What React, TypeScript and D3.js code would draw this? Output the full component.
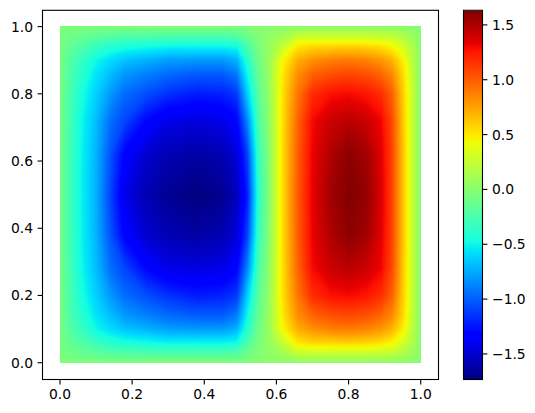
import React from "react";
import * as d3 from "d3";

// sample positions of the field (denser where it changes fast)
const xGrid = [0, 0.03, 0.06, 0.1, 0.14, 0.18, 0.24, 0.3, 0.38, 0.45, 0.49, 0.52, 0.55, 0.58, 0.62, 0.66, 0.7, 0.75, 0.8, 0.85, 0.89, 0.92, 0.95, 0.98, 1];
const yGrid = [0, 0.03, 0.06, 0.1, 0.14, 0.2, 0.28, 0.38, 0.5, 0.62, 0.72, 0.8, 0.86, 0.9, 0.94, 0.97, 1];

// one row per yGrid entry, bottom to top
const fieldRows = [
  [-0.04, -0.04, -0.04, -0.03, -0.03, -0.03, -0.02, -0.02, -0.02, -0.02, -0.03, -0.02, 0, 0.02, 0.03, 0.03, 0.03, 0.03, 0.03, 0.03, 0.03, 0.03, 0.02, 0.01, 0],
  [-0.05, -0.1, -0.13, -0.18, -0.21, -0.23, -0.24, -0.25, -0.25, -0.25, -0.22, -0.12, -0.03, 0.05, 0.12, 0.28, 0.28, 0.28, 0.28, 0.28, 0.27, 0.25, 0.18, 0.09, 0],
  [-0.05, -0.16, -0.22, -0.32, -0.4, -0.44, -0.47, -0.5, -0.5, -0.5, -0.47, -0.25, -0.06, 0.07, 0.28, 0.52, 0.58, 0.58, 0.6, 0.58, 0.54, 0.47, 0.34, 0.15, 0],
  [-0.05, -0.22, -0.32, -0.48, -0.58, -0.66, -0.72, -0.78, -0.8, -0.8, -0.72, -0.38, -0.1, 0.08, 0.47, 0.72, 0.82, 0.88, 0.9, 0.87, 0.8, 0.7, 0.5, 0.19, 0],
  [-0.05, -0.25, -0.38, -0.55, -0.68, -0.8, -0.88, -0.95, -1, -1, -0.9, -0.48, -0.13, 0.08, 0.53, 0.83, 0.98, 1.05, 1.08, 1.05, 0.97, 0.85, 0.58, 0.21, 0],
  [-0.05, -0.27, -0.44, -0.62, -0.8, -0.95, -1.05, -1.15, -1.22, -1.2, -1.12, -0.62, -0.18, 0.06, 0.56, 0.92, 1.18, 1.28, 1.3, 1.26, 1.18, 1, 0.62, 0.22, 0],
  [-0.05, -0.29, -0.48, -0.68, -0.94, -1.08, -1.3, -1.42, -1.45, -1.42, -1.32, -0.85, -0.25, 0.04, 0.57, 0.98, 1.3, 1.42, 1.47, 1.42, 1.32, 1.08, 0.64, 0.22, 0],
  [-0.05, -0.3, -0.5, -0.71, -1.03, -1.32, -1.5, -1.58, -1.62, -1.58, -1.47, -1.08, -0.33, 0.01, 0.58, 1.01, 1.33, 1.5, 1.6, 1.54, 1.36, 1.1, 0.65, 0.22, 0],
  [-0.05, -0.3, -0.5, -0.72, -1.08, -1.42, -1.58, -1.67, -1.73, -1.68, -1.55, -1.2, -0.38, 0, 0.58, 1.02, 1.34, 1.54, 1.63, 1.58, 1.38, 1.1, 0.65, 0.22, 0],
  [-0.05, -0.3, -0.5, -0.71, -1.03, -1.32, -1.5, -1.58, -1.62, -1.58, -1.47, -1.08, -0.33, 0.01, 0.58, 1.01, 1.33, 1.5, 1.6, 1.54, 1.36, 1.1, 0.65, 0.22, 0],
  [-0.05, -0.29, -0.48, -0.68, -0.94, -1.08, -1.3, -1.42, -1.45, -1.42, -1.32, -0.85, -0.25, 0.04, 0.57, 0.98, 1.3, 1.42, 1.47, 1.42, 1.32, 1.08, 0.64, 0.22, 0],
  [-0.05, -0.27, -0.44, -0.62, -0.8, -0.95, -1.05, -1.15, -1.22, -1.2, -1.12, -0.62, -0.18, 0.06, 0.56, 0.92, 1.18, 1.28, 1.3, 1.26, 1.18, 1, 0.62, 0.22, 0],
  [-0.05, -0.25, -0.38, -0.55, -0.68, -0.8, -0.88, -0.95, -1, -1, -0.9, -0.48, -0.13, 0.08, 0.53, 0.83, 0.98, 1.05, 1.08, 1.05, 0.97, 0.85, 0.58, 0.21, 0],
  [-0.05, -0.22, -0.32, -0.48, -0.58, -0.66, -0.72, -0.78, -0.8, -0.8, -0.72, -0.38, -0.1, 0.08, 0.47, 0.72, 0.82, 0.88, 0.9, 0.87, 0.8, 0.7, 0.5, 0.19, 0],
  [-0.05, -0.16, -0.22, -0.32, -0.4, -0.44, -0.47, -0.5, -0.5, -0.5, -0.47, -0.25, -0.06, 0.07, 0.28, 0.52, 0.58, 0.58, 0.6, 0.58, 0.54, 0.47, 0.34, 0.15, 0],
  [-0.05, -0.1, -0.13, -0.18, -0.21, -0.23, -0.24, -0.25, -0.25, -0.25, -0.22, -0.12, -0.03, 0.05, 0.12, 0.28, 0.28, 0.28, 0.28, 0.28, 0.27, 0.25, 0.18, 0.09, 0],
  [-0.04, -0.04, -0.04, -0.03, -0.03, -0.03, -0.02, -0.02, -0.02, -0.02, -0.03, -0.02, 0, 0.02, 0.03, 0.03, 0.03, 0.03, 0.03, 0.03, 0.03, 0.03, 0.02, 0.01, 0],
];

const axisTicks = [0, 0.2, 0.4, 0.6, 0.8, 1];
const barTicks = [-1.5, -1, -0.5, 0, 0.5, 1, 1.5];
const vMin = -1.733;
const vMax = 1.633;

const W = 535;
const H = 413;
const FONT = "'DejaVu Sans'";
const FONT_SIZE = 13.89;

// matplotlib's jet breakpoints
const red = d3.scaleLinear([0, 0.35, 0.66, 0.89, 1], [0, 0, 1, 1, 0.5]);
const green = d3.scaleLinear([0, 0.125, 0.375, 0.64, 0.91, 1], [0, 0, 1, 1, 0, 0]);
const blue = d3.scaleLinear([0, 0.11, 0.34, 0.65, 1], [0.5, 1, 1, 0, 0]);
const jet = (t: number) =>
  d3.rgb(red(t) * 255, green(t) * 255, blue(t) * 255).formatHex();

const App = () => {
  const x = d3.scaleLinear().domain([0, 1]).range([60, 420.7]);
  const y = d3.scaleLinear().domain([0, 1]).range([362.7, 26.6]);
  const norm = d3.scaleLinear().domain([vMin, vMax]).range([0, 1]);
  const barY = d3.scaleLinear().domain([vMin, vMax]).range([379.5, 10.3]);

  const plot = { left: 42.5, right: 438.5, top: 10.3, bottom: 379.5 };
  const bar = { left: 463.5, right: 482.5 };

  const levels = d3.range(256).map((i) => vMin + ((vMax - vMin) * i) / 255);
  const contours = d3
    .contours()
    .size([xGrid.length, yGrid.length])
    .smooth(true)
    .thresholds(levels)(fieldRows.flat());

  // contour coordinates -> sample index -> pixels
  const ix = d3
    .scaleLinear()
    .domain(xGrid.map((_, i) => i))
    .range(xGrid.map((d) => x(d)))
    .clamp(true);
  const iy = d3
    .scaleLinear()
    .domain(yGrid.map((_, i) => i))
    .range(yGrid.map((d) => y(d)))
    .clamp(true);
  const path = d3.geoPath(
    d3.geoTransform({
      point(px: number, py: number) {
        this.stream.point(ix(px - 0.5), iy(py - 0.5));
      },
    })
  );

  const tickLabel = (d: number) => d.toFixed(1).replace("-", "\u2212");

  // colorbar drawn one pixel row at a time
  const barRows = d3.range(Math.ceil(barY(vMax)), Math.ceil(barY(vMin)));

  return (
    <svg
      width={W}
      height={H}
      style={{ position: "absolute", left: 0, top: 0, background: "#fff" }}
      fontFamily={FONT}
      fontSize={FONT_SIZE}
    >
      {contours.map((c, i) => (
        <path key={i} d={path(c) || ""} fill={jet(norm(c.value))} />
      ))}

      <rect
        x={plot.left}
        y={plot.top}
        width={plot.right - plot.left}
        height={plot.bottom - plot.top}
        fill="none"
        stroke="#000"
        strokeWidth={1.1}
      />
      {axisTicks.map((d) => (
        <g key={d}>
          <line x1={x(d)} x2={x(d)} y1={plot.bottom} y2={plot.bottom + 4.9} stroke="#000" strokeWidth={1.1} />
          <text x={x(d)} y={399} textAnchor="middle" fill="#000">
            {d.toFixed(1)}
          </text>
          <line x1={plot.left} x2={plot.left - 4.9} y1={y(d)} y2={y(d)} stroke="#000" strokeWidth={1.1} />
          <text x={plot.left - 9.5} y={y(d) + 5} textAnchor="end" fill="#000">
            {d.toFixed(1)}
          </text>
        </g>
      ))}

      {barRows.map((py) => (
        <rect
          key={py}
          x={bar.left}
          width={bar.right - bar.left}
          y={py}
          height={1}
          shapeRendering="crispEdges"
          fill={jet(norm(barY.invert(py + 0.5)))}
        />
      ))}
      <rect
        x={bar.left}
        y={barY(vMax)}
        width={bar.right - bar.left}
        height={barY(vMin) - barY(vMax)}
        fill="none"
        stroke="#000"
        strokeWidth={1.1}
      />
      {barTicks.map((d) => (
        <g key={d}>
          <line x1={bar.right} x2={bar.right + 4.9} y1={barY(d)} y2={barY(d)} stroke="#000" strokeWidth={1.1} />
          <text x={bar.right + 9.5} y={barY(d) + 5} fill="#000">
            {tickLabel(d)}
          </text>
        </g>
      ))}
    </svg>
  );
};

export default App;
